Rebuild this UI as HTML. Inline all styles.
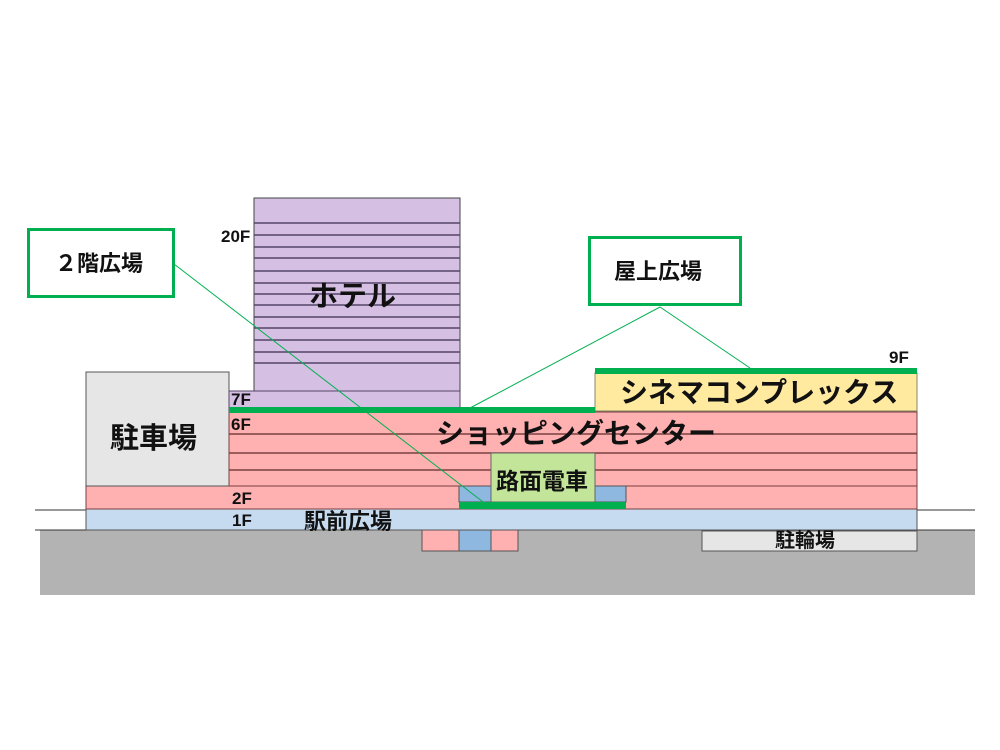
<!DOCTYPE html>
<html><head><meta charset="utf-8"><style>
body{margin:0;width:1000px;height:750px;background:#fff;position:relative;overflow:hidden;font-family:"Liberation Sans","Noto Sans CJK JP",sans-serif}
div{position:absolute;box-sizing:border-box}
.t{white-space:nowrap;color:#111;line-height:1;font-weight:bold}
.f{font-family:"Liberation Sans Narrow","Liberation Sans",sans-serif;font-weight:bold;font-size:17px}
</style></head><body>
<svg width="1000" height="750" style="position:absolute;left:0;top:0">
<rect x="40" y="530" width="935" height="65" fill="#b3b3b3"/>
<line x1="35" y1="510" x2="975" y2="510" stroke="#333" stroke-width="1"/>
<line x1="35" y1="530" x2="975" y2="530" stroke="#333" stroke-width="1"/>
<rect x="86" y="509" width="831" height="21" fill="#c6dbf0" stroke="#555"/>
<rect x="86" y="486" width="831" height="23" fill="#ffb0b0" stroke="#7a4040"/>
<rect x="86" y="372" width="143" height="114" fill="#e6e6e6" stroke="#555"/>
<rect x="254" y="198" width="206" height="193" fill="#d5c0e4" stroke="#444"/>
<g stroke="#554466" stroke-width="1.5">
<line x1="254" y1="223" x2="460" y2="223"/><line x1="254" y1="235" x2="460" y2="235"/>
<line x1="254" y1="247" x2="460" y2="247"/><line x1="254" y1="258" x2="460" y2="258"/>
<line x1="254" y1="271" x2="460" y2="271"/><line x1="254" y1="283" x2="460" y2="283"/>
<line x1="254" y1="294" x2="460" y2="294"/><line x1="254" y1="305" x2="460" y2="305"/>
<line x1="254" y1="317" x2="460" y2="317"/><line x1="254" y1="328" x2="460" y2="328"/>
<line x1="254" y1="340" x2="460" y2="340"/><line x1="254" y1="352" x2="460" y2="352"/>
<line x1="254" y1="363" x2="460" y2="363"/></g>
<rect x="229" y="391" width="231" height="19" fill="#d5c0e4" stroke="#554466"/>
<rect x="229" y="412" width="688" height="74" fill="#ffb0b0" stroke="#7a4040"/>
<g stroke="#7a4040" stroke-width="1.5">
<line x1="229" y1="434" x2="917" y2="434"/><line x1="229" y1="453" x2="917" y2="453"/><line x1="229" y1="470" x2="917" y2="470"/></g>
<rect x="595" y="373" width="322" height="38" fill="#ffeaa0" stroke="#886"/>
<rect x="459" y="486" width="167" height="16" fill="#8fb8e0" stroke="#555"/>
<rect x="491" y="453" width="104" height="49" fill="#c3e59a" stroke="#666"/>
<rect x="459" y="502" width="167" height="7" fill="#00b050"/>
<rect x="229" y="407" width="366" height="6" fill="#00b050"/>
<rect x="595" y="368" width="322" height="6" fill="#00b050"/>
<rect x="422" y="530" width="37" height="21" fill="#ffb0b0" stroke="#555"/>
<rect x="459" y="530" width="32" height="21" fill="#8fb8e0" stroke="#555"/>
<rect x="491" y="530" width="27" height="21" fill="#ffb0b0" stroke="#555"/>
<rect x="702" y="531" width="215" height="20" fill="#e6e6e6" stroke="#555"/>
<g stroke="#00b050" stroke-width="1" fill="none">
<line x1="174" y1="264" x2="487" y2="505"/>
<line x1="660" y1="307" x2="470" y2="408"/>
<line x1="660" y1="307" x2="750" y2="368"/></g>
<rect x="28.5" y="229.5" width="145" height="67" fill="#fff" stroke="#00b050" stroke-width="3"/>
<rect x="589.5" y="237.5" width="151" height="67" fill="#fff" stroke="#00b050" stroke-width="3"/>
</svg>
<div class="t" style="left:55px;top:253px;font-size:22px">２階広場</div>
<div class="t" style="left:614px;top:261px;font-size:22px">屋上広場</div>
<div class="t" style="left:309px;top:283px;font-size:29px">ホテル</div>
<div class="t" style="left:110px;top:425px;font-size:29px">駐車場</div>
<div class="t" style="left:436px;top:420px;font-size:28px">ショッピングセンター</div>
<div class="t" style="left:620px;top:379px;font-size:28px">シネマコンプレックス</div>
<div class="t" style="left:496px;top:470px;font-size:23px">路面電車</div>
<div class="t" style="left:304px;top:511px;font-size:22px">駅前広場</div>
<div class="t" style="left:775px;top:531px;font-size:20px">駐輪場</div>
<div class="t f" style="left:221px;top:228px">20F</div>
<div class="t f" style="left:231px;top:391px">7F</div>
<div class="t f" style="left:231px;top:416px">6F</div>
<div class="t f" style="left:232px;top:490px">2F</div>
<div class="t f" style="left:232px;top:512px">1F</div>
<div class="t f" style="left:889px;top:349px">9F</div>
</body></html>
